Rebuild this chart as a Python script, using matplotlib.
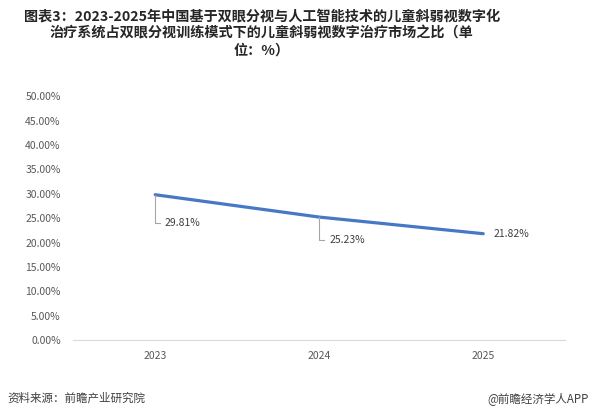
import matplotlib.pyplot as plt
from matplotlib.ticker import PercentFormatter

plt.rcParams['font.family'] = ['Noto Sans CJK SC', 'DejaVu Sans']

years = ["2023", "2024", "2025"]
share = [29.81, 25.23, 21.82]
yticks = [0, 5, 10, 15, 20, 25, 30, 35, 40, 45, 50]

title = ("图表3：2023-2025年中国基于双眼分视与人工智能技术的儿童斜弱视数字化\n"
         "治疗系统占双眼分视训练模式下的儿童斜弱视数字治疗市场之比（单\n"
         "位：%）")

fig = plt.figure(figsize=(5.95, 4.2), dpi=100)
ax = fig.add_axes([0.123, 0.190, 0.827, 0.581])

x = list(range(len(years)))
ax.plot(x, share, color="#4678C6", linewidth=2.3, solid_capstyle="round")

ax.set_xlim(-0.5, len(years) - 0.5)
ax.set_ylim(0, 50)
ax.set_yticks(yticks)
ax.yaxis.set_major_formatter(PercentFormatter(decimals=2))
ax.set_xticks(x)
ax.set_xticklabels(years)
ax.tick_params(length=0, labelsize=7.5, colors="#595959")
ax.tick_params(axis="y", pad=9)
ax.tick_params(axis="x", pad=8)

for side in ["top", "right", "left"]:
    ax.spines[side].set_visible(False)
ax.spines["bottom"].set_color("#d9d9d9")

# data labels with leader lines for the first two points
drops = [-5.7, -4.7]
for i, (xi, yi) in enumerate(zip(x, share)):
    label = f"{yi:.2f}%"
    if i < len(drops):
        dy = drops[i]
        ax.plot([xi, xi, xi + 0.03], [yi, yi + dy, yi + dy],
                color="#a6a6a6", linewidth=0.8)
        ax.text(xi + 0.06, yi + dy, label, fontsize=7.5, color="#404040",
                va="center", ha="left")
    else:
        ax.text(xi + 0.06, yi, label, fontsize=7.5, color="#404040",
                va="center", ha="left")

fig.text(0.44, 0.978, title, ha="center", va="top", fontsize=10.2,
         fontweight="bold", color="#262626", linespacing=1.3)
fig.text(0.012, 0.052, "资料来源：前瞻产业研究院", fontsize=8.3, color="#404040",
         va="center")
fig.text(0.99, 0.052, "@前瞻经济学人APP", fontsize=8.3, color="#404040",
         va="center", ha="right")

fig.savefig("out.png", dpi=100)
